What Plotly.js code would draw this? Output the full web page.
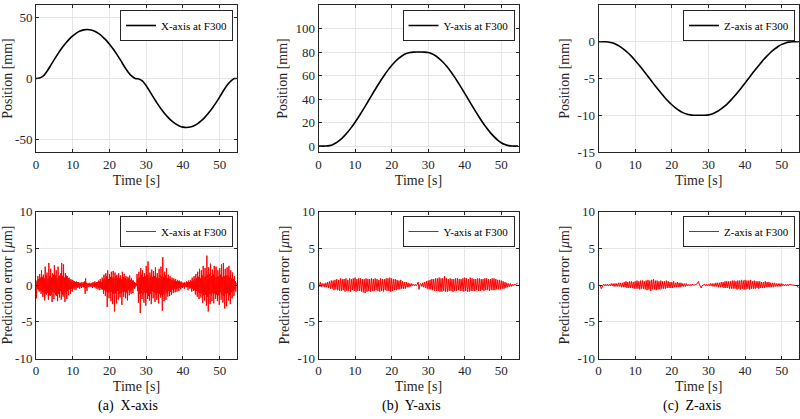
<!DOCTYPE html>
<html>
<head>
<meta charset="utf-8">
<script src="https://cdn.plot.ly/plotly-3.0.1.min.js"></script>
<style>html,body{margin:0;padding:0;background:#fff}#chart{width:800px;height:419px}</style>
</head>
<body>
<div id="chart"></div>
<script>
// ---- Data ----
const posTime = [0,1,2,3,4,5,6,7,8,9,10,11,12,13,14,15,16,17,18,19,20,21,22,23,24,25,26,27,
  28,29,30,31,32,33,34,35,36,37,38,39,40,41,42,43,44,45,46,47,48,49,50,51,52,53,54,54.6];

const xPosition = [0,0.35,2.09,5.91,10.69,15.63,20.30,24.63,28.53,31.94,34.82,37.09,38.72,39.70,40.00,39.61,38.54,36.82,34.46,31.52,28.04,24.07,19.70,14.98,10.02,5.57,2.09,0,
  -0.35,-2.09,-5.91,-10.69,-15.63,-20.30,-24.63,-28.53,-31.94,-34.82,-37.09,-38.72,-39.70,-40.00,-39.61,-38.54,-36.82,-34.46,-31.52,-28.04,-24.07,-19.70,-14.98,-10.02,-5.57,-2.09,0,0];

const yPosition = [0,0.00,0.05,0.44,1.46,3.18,5.54,8.48,11.96,15.93,20.30,25.02,29.98,35.12,40.35,45.57,50.69,55.63,60.30,64.63,68.53,71.94,74.82,77.09,78.72,79.61,79.94,80,
  80.00,79.95,79.56,78.54,76.82,74.46,71.52,68.04,64.07,59.70,54.98,50.02,44.88,39.65,34.43,29.31,24.37,19.70,15.37,11.47,8.06,5.18,2.91,1.28,0.39,0.06,0,0];

const zPosition = [0,0,-0.01,-0.06,-0.18,-0.40,-0.69,-1.06,-1.50,-1.99,-2.54,-3.13,-3.75,-4.39,-5.04,-5.70,-6.34,-6.95,-7.54,-8.08,-8.57,-8.99,-9.35,-9.64,-9.84,-9.95,-9.99,-10,
  -10.00,-9.99,-9.95,-9.82,-9.60,-9.31,-8.94,-8.51,-8.01,-7.46,-6.87,-6.25,-5.61,-4.96,-4.30,-3.66,-3.05,-2.46,-1.92,-1.43,-1.01,-0.65,-0.36,-0.16,-0.05,-0.01,0,0];

// prediction error samples (µm); each series starts at t = 0 with its own sample step (s)
const errStart = 0;
const xErrStep = 0.125;
const yzErrStep = 0.25;

const xError = [
 0.3,-1.8,0.6,-0.5,1.2,-0.7,0.8,-0.9,  1.5,-0.8,1.0,-1.2,2.0,-0.9,1.1,-1.6,
 1.4,-1.0,0.9,-2.1,2.5,-1.2,1.3,-1.3,  1.7,-1.1,0.8,-2.0,3.0,-1.4,1.2,-1.5,
 2.2,-1.3,1.0,-2.3,1.6,-0.9,1.4,-1.9,  2.7,-1.1,1.3,-1.4,2.0,-1.5,0.9,-2.2,
 2.5,-1.2,1.1,-1.7,1.3,-0.8,1.6,-2.0,  3.0,-1.3,1.2,-1.6,2.8,-1.4,1.0,-2.3,
 1.6,-1.0,1.3,-1.9,1.2,-0.8,0.9,-1.4,  1.0,-0.6,0.7,-1.2,0.8,-0.5,0.6,-0.9,
 0.7,-0.4,0.5,-0.6,0.5,-0.3,0.4,-0.7,  0.5,-0.3,0.4,-0.4,0.4,-0.3,0.3,-0.5,
 0.3,-0.2,0.3,-0.4,0.4,-0.2,0.2,-0.3,  0.4,-0.3,0.5,-1.2,0.9,-0.4,0.3,-0.8,
 0.2,-0.1,0.2,-0.3,0.3,-0.2,0.1,-0.2,  0.3,-0.2,0.2,-0.4,0.4,-0.2,0.3,-0.3,
 0.5,-0.3,0.3,-0.5,0.4,-0.3,0.4,-0.6,  0.6,-0.4,0.5,-0.7,0.8,-0.4,0.4,-0.6,
 1.0,-0.6,0.8,-1.2,1.4,-0.7,0.9,-1.5,  1.6,-0.9,1.2,-3.0,2.0,-1.0,0.8,-1.8,
 1.5,-1.0,1.1,-2.2,1.8,-0.9,1.0,-2.6,  1.9,-1.2,0.9,-3.6,1.7,-1.1,1.2,-2.5,
 1.4,-0.8,1.0,-2.0,1.6,-1.2,0.9,-1.7,  1.3,-1.1,0.8,-2.7,1.8,-0.9,1.1,-1.6,
 1.5,-0.9,1.0,-1.8,1.2,-1.0,0.8,-2.1,  1.1,-0.7,0.9,-1.4,1.3,-0.8,0.7,-1.2,
 0.9,-0.6,0.6,-1.1,0.6,-0.4,0.4,-0.5,  0.3,-0.2,0.2,-0.1,1.5,-0.8,0.9,-2.4,
 1.8,-1.2,1.0,-3.8,2.3,-1.1,1.4,-1.9,  2.0,-1.3,1.1,-2.4,1.6,-1.0,1.2,-2.8,
 2.6,-1.1,1.4,-1.9,3.2,-1.5,1.0,-2.1,  1.7,-1.2,1.3,-2.6,2.1,-0.9,1.1,-1.8,
 1.9,-1.0,1.2,-2.3,2.4,-1.3,1.0,-2.0,  1.6,-1.1,0.9,-2.5,2.2,-1.2,1.3,-1.7,
 2.5,-1.4,1.2,-3.5,3.8,-1.3,1.1,-2.2,  1.8,-1.0,1.3,-2.0,2.3,-1.1,0.9,-1.6,
 1.4,-0.8,0.9,-1.5,1.2,-0.9,0.7,-1.3,  1.0,-0.6,0.7,-1.1,0.9,-0.5,0.6,-1.0,
 0.8,-0.5,0.5,-0.9,0.7,-0.4,0.5,-0.8,  0.6,-0.4,0.4,-0.6,0.5,-0.3,0.3,-0.4,
 0.3,-0.2,0.3,-0.5,0.4,-0.2,0.2,-0.3,  0.5,-0.3,0.4,-0.7,0.6,-0.3,0.4,-0.5,
 0.7,-0.4,0.5,-0.9,1.0,-0.5,0.6,-0.8,  1.2,-0.7,0.8,-1.3,1.5,-0.8,0.9,-1.6,
 1.8,-1.0,1.1,-1.9,2.2,-1.1,0.9,-1.7,  2.0,-1.2,1.3,-2.4,2.6,-1.4,1.1,-2.1,
 2.3,-1.3,1.2,-2.8,4.0,-1.6,1.4,-3.6,  2.4,-1.2,1.5,-2.6,2.9,-1.3,1.2,-2.2,
 2.1,-1.1,1.4,-2.5,2.6,-1.2,1.0,-1.9,  2.5,-1.3,1.1,-2.2,2.0,-1.4,1.2,-2.7,
 2.3,-1.0,1.4,-2.0,2.8,-1.3,1.1,-2.4,  3.0,-1.5,1.2,-3.2,2.2,-1.2,1.3,-2.9,
 2.4,-1.1,1.3,-2.1,2.6,-1.4,1.0,-2.6,  2.0,-1.0,0.9,-1.8,1.7,-0.9,0.8,-1.5,
 1.2,-0.6,0.5,-0.9,0.3];

const yError = [
 0.1,-0.2,0.4,-0.3, 0.2,-0.2,0.2,-0.3, 0.3,-0.3,0.4,-0.4, 0.5,-0.5,0.6,-0.5, 0.6,-0.7,0.7,-0.6,
 0.8,-0.7,0.7,-0.8, 0.9,-0.8,0.8,-0.7, 0.8,-0.9,0.9,-0.8, 0.7,-0.8,0.9,-0.9, 0.8,-0.7,0.9,-0.8,
 1.0,-0.9,0.8,-0.8, 0.9,-0.8,0.9,-0.9, 0.8,-1.0,0.8,-1.1, 0.9,-0.9,0.8,-0.8, 0.8,-0.9,0.9,-0.8,
 0.8,-0.8,0.9,-0.7, 0.8,-0.8,0.7,-0.9, 0.9,-0.8,0.8,-0.9, 0.8,-0.7,0.9,-0.8, 0.9,-0.8,1.0,-0.9,
 0.9,-0.8,0.8,-0.7, 0.8,-0.7,0.7,-0.6, 0.6,-0.6,0.7,-0.5, 0.5,-0.5,0.4,-0.5, 0.4,-0.3,0.3,-0.3,
 0.2,-0.2,0.2,-0.1, 0.1,-0.1,0.1,-0.1, 0.1,0.4,-0.6,0.1, 0.2,-0.2,0.3,-0.3, 0.4,-0.4,0.5,-0.5,
 0.6,-0.6,0.7,-0.6, 0.8,-0.7,0.8,-0.8, 0.9,-0.8,0.9,-0.8, 1.0,-0.9,0.9,-0.9, 0.9,-0.8,1.2,-0.9,
 0.9,-0.9,0.8,-0.8, 0.9,-0.8,0.8,-0.9, 0.8,-0.8,0.9,-0.8, 0.9,-0.7,0.8,-0.8, 0.8,-0.8,0.9,-0.9,
 1.0,-0.8,0.9,-0.9, 0.8,-0.9,1.0,-0.8, 0.9,-0.8,0.8,-0.8, 0.8,-0.7,0.9,-0.8, 0.9,-0.8,0.8,-0.7,
 0.8,-0.8,0.9,-0.7, 0.9,-0.7,0.8,-0.8, 0.8,-0.7,0.9,-0.7, 0.9,-0.7,0.8,-0.6, 0.7,-0.6,0.7,-0.6,
 0.6,-0.5,0.5,-0.5, 0.4,-0.4,0.3,-0.3, 0.2,-0.2,0.2,-0.2, 0.1,-0.1,0.1,0.0, 0.1,0.2,0.3];

const zError = [
 0.0,0.0,-0.1,-0.5, -0.1,0.0,0.1,-0.1, 0.1,-0.1,0.1,-0.1, 0.1,-0.1,0.2,-0.1, 0.2,-0.2,0.2,-0.2,
 0.2,-0.2,0.3,-0.2, 0.3,-0.3,0.3,-0.3, 0.4,-0.3,0.5,-0.4, 0.4,-0.4,0.5,-0.4, 0.5,-0.4,0.4,-0.5,
 0.5,-0.5,0.6,-0.5, 0.5,-0.6,0.6,-0.5, 0.6,-0.5,0.5,-0.6, 0.6,-0.7,0.7,-0.6, 0.6,-0.8,0.7,-0.6,
 0.8,-0.6,0.6,-0.7, 0.6,-0.6,0.5,-0.6, 0.6,-0.5,0.5,-0.5, 0.5,-0.5,0.6,-0.4, 0.5,-0.4,0.4,-0.4,
 0.4,-0.4,0.5,-0.3, 0.3,-0.3,0.4,-0.3, 0.3,-0.3,0.3,-0.2, 0.2,-0.2,0.2,-0.2, 0.2,-0.1,0.1,-0.1,
 0.1,-0.1,0.1,0.0, 0.0,0.0,0.0,0.1, 0.3,0.5,0.1,-0.2, -0.4,-0.1,0.0,0.0, 0.1,-0.1,0.1,-0.1,
 0.1,-0.1,0.2,-0.1, 0.2,-0.2,0.2,-0.2, 0.3,-0.2,0.3,-0.3, 0.3,-0.3,0.4,-0.3, 0.4,-0.4,0.5,-0.4,
 0.5,-0.4,0.5,-0.5, 0.5,-0.5,0.6,-0.5, 0.6,-0.5,0.5,-0.6, 0.6,-0.5,0.6,-0.6, 0.7,-0.5,0.6,-0.6,
 0.7,-0.6,0.6,-0.5, 0.6,-0.6,0.7,-0.5, 0.5,-0.5,0.6,-0.5, 0.5,-0.4,0.5,-0.5, 0.5,-0.4,0.4,-0.4,
 0.4,-0.4,0.5,-0.3, 0.4,-0.3,0.4,-0.3, 0.3,-0.3,0.3,-0.3, 0.3,-0.2,0.2,-0.2, 0.2,-0.2,0.2,-0.2,
 0.2,-0.1,0.1,-0.1, 0.1,-0.1,0.1,-0.1, 0.1,0.0,0.1,0.0, 0.0,0.0,0.0,0.0, 0.0,-0.1,-0.4];

const seriesNames = ['X-axis at F300', 'Y-axis at F300', 'Z-axis at F300'];
const captions = ['(a)  X-axis', '(b)  Y-axis', '(c)  Z-axis'];
const timeTicks = [0, 10, 20, 30, 40, 50];
const posTickVals = [[-50, 0, 50], [0, 20, 40, 60, 80, 100], [-15, -10, -5, 0, 5]];
const posTickText = [['-50', '0', '50'], ['0', '20', '40', '60', '80', '100'], ['-15', '-10', '-5', '0', '5']];
const errTickVals = [-10, -5, 0, 5, 10];
const errTickText = ['-10', '-5', '0', '5', '10'];

// ---- Layout helpers ----
const W = 800, H = 419;
const FONT = 'Liberation Serif';
const colX = [[36, 237], [318.5, 518.5], [598.5, 799]];
const rowTop = [5, 152], rowBot = [211.5, 358.5];
const posRanges = [[-60, 60], [-5, 120], [-15, 5]];
const xRange = [0, 54.7];

function xd(c) { return [colX[c][0] / W, colX[c][1] / W]; }
function yd(r) { return [1 - r[1] / H, 1 - r[0] / H]; }

const positions = [xPosition, yPosition, zPosition];
const errors = [xError, yError, zError];
const errSteps = [xErrStep, yzErrStep, yzErrStep];

const data = [];
const layout = {
  width: W, height: H,
  margin: {l: 0, r: 0, t: 0, b: 0},
  paper_bgcolor: '#ffffff', plot_bgcolor: '#ffffff',
  font: {family: FONT, size: 13, color: '#262626'},
  showlegend: true,
  annotations: []
};

function axisCommon() {
  return {
    showline: true, linecolor: '#262626', linewidth: 1, mirror: 'ticks',
    ticks: 'inside', ticklen: 3, tickcolor: '#262626',
    showgrid: true, gridcolor: '#e6e6e6', gridwidth: 1,
    zeroline: false, automargin: false,
    tickfont: {family: FONT, size: 13, color: '#262626'}
  };
}

for (let c = 0; c < 3; c++) {
  const topIdx = c + 1;          // axes 1..3 top row
  const botIdx = c + 4;          // axes 4..6 bottom row
  const legTop = topIdx === 1 ? 'legend' : 'legend' + topIdx;
  const legBot = 'legend' + botIdx;
  const sfx = topIdx === 1 ? '' : String(topIdx);

  data.push({
    type: 'scatter', mode: 'lines', name: seriesNames[c],
    x: posTime, y: positions[c],
    line: {color: '#000000', width: 1.6, shape: 'spline', smoothing: 0.6},
    xaxis: 'x' + sfx, yaxis: 'y' + sfx,
    legend: legTop, showlegend: true
  });
  data.push({
    type: 'scatter', mode: 'lines', name: seriesNames[c],
    x0: errStart, dx: errSteps[c], y: errors[c],
    line: {color: '#ff0000', width: 1},
    xaxis: 'x' + botIdx, yaxis: 'y' + botIdx,
    legend: legBot, showlegend: true
  });

  layout['xaxis' + sfx] = Object.assign(axisCommon(), {
    domain: xd(c), range: xRange, tickvals: timeTicks, anchor: 'y' + sfx,
    title: {text: 'Time [s]', font: {family: FONT, size: 14, color: '#262626'}, standoff: 4}
  });
  layout['yaxis' + sfx] = Object.assign(axisCommon(), {
    domain: yd(rowTop), range: posRanges[c], tickvals: posTickVals[c], ticktext: posTickText[c],
    anchor: 'x' + sfx,
    title: {text: 'Position [mm]', font: {family: FONT, size: 14, color: '#262626'}, standoff: 4}
  });
  layout['xaxis' + botIdx] = Object.assign(axisCommon(), {
    domain: xd(c), range: xRange, tickvals: timeTicks, anchor: 'y' + botIdx,
    title: {text: 'Time [s]', font: {family: FONT, size: 14, color: '#262626'}, standoff: 4}
  });
  layout['yaxis' + botIdx] = Object.assign(axisCommon(), {
    domain: yd(rowBot), range: [-10, 10], tickvals: errTickVals, ticktext: errTickText,
    anchor: 'x' + botIdx,
    title: {text: 'Prediction error [<i>μ</i>m]', font: {family: FONT, size: 14, color: '#262626'}, standoff: 4}
  });

  const legendStyle = (yTopPx) => ({
    x: (colX[c][1] - 4) / W, y: 1 - yTopPx / H, xanchor: 'right', yanchor: 'top',
    xref: 'paper', yref: 'paper',
    bgcolor: '#ffffff', bordercolor: '#262626', borderwidth: 1,
    font: {family: FONT, size: 11, color: '#000000'},
    itemwidth: 30, tracegroupgap: 0
  });
  layout[legTop] = legendStyle(10);
  layout[legBot] = legendStyle(216);

  layout.annotations.push({
    text: captions[c], xref: 'paper', yref: 'paper',
    x: [128, 411, 692][c] / W, y: 1 - 406 / H, xanchor: 'center', yanchor: 'middle',
    showarrow: false, font: {family: FONT, size: 14, color: '#000000'}
  });
}

Plotly.newPlot('chart', data, layout, {staticPlot: true, displayModeBar: false});
</script>
</body>
</html>
